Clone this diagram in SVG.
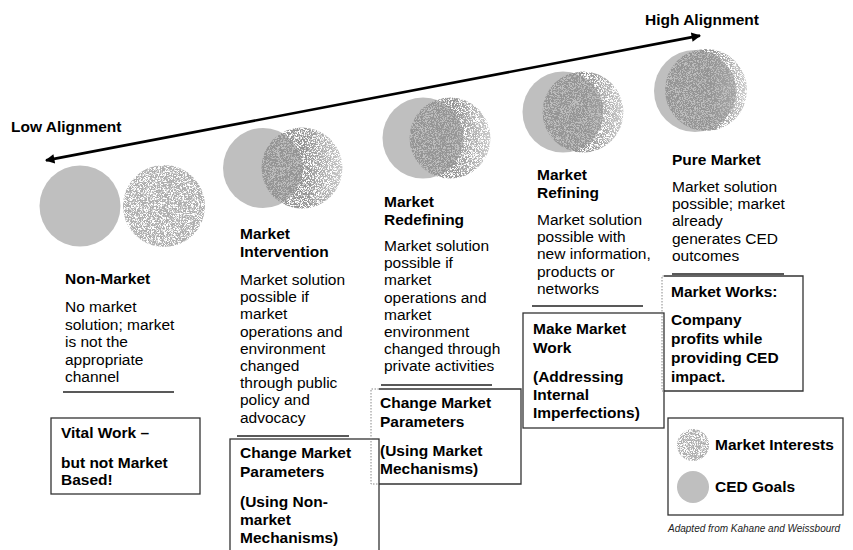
<svg xmlns="http://www.w3.org/2000/svg" width="853" height="550" viewBox="0 0 853 550">
  <style>
    text { font-family: "Liberation Sans", Arial, sans-serif; fill: #000; }
    .h { font-size: 15.5px; font-weight: bold; }
    .b { font-size: 15.5px; }
    .cap { font-size: 10px; font-style: italic; fill: #222; }
    .ced { fill: #bfbfbf; }
    .mkt { filter: url(#stipple); }
    .box { fill: none; stroke: #333; stroke-width: 1.3; }
    .dot { fill: none; stroke: #888; stroke-width: 1; stroke-dasharray: 1.5 1.5; }
    .sep { stroke: #222; stroke-width: 1.5; }
    .arrow { stroke: #000; stroke-width: 2.6; fill: none; }
  </style>
  <defs>
    <marker id="head" viewBox="0 0 10 10" refX="9" refY="5" markerWidth="4.2" markerHeight="3.6" orient="auto-start-reverse" markerUnits="strokeWidth">
      <path d="M0,0 L10,5 L0,10 Z" fill="#000"/>
    </marker>
    <!-- speckled texture: fine pixel noise thresholded into dark dots, kept inside the shape -->
    <filter id="stipple" x="-5%" y="-5%" width="110%" height="110%">
      <feTurbulence type="fractalNoise" baseFrequency="2.3" numOctaves="2" seed="7" result="n"/>
      <feColorMatrix in="n" type="matrix" values="0 0 0 0 0.3  0 0 0 0 0.3  0 0 0 0 0.3  7 0 0 0 -2.75" result="dots"/>
      <feComposite in="dots" in2="SourceGraphic" operator="in"/>
    </filter>
    <linearGradient id="fade" x1="0" y1="0" x2="1" y2="0">
      <stop offset="0" stop-color="#000" stop-opacity="1"/>
      <stop offset="0.55" stop-color="#000" stop-opacity="1"/>
      <stop offset="1" stop-color="#000" stop-opacity="0.5"/>
    </linearGradient>
  </defs>

  <!-- alignment axis -->
  <g id="connectors">
    <line class="arrow" x1="46" y1="160.4" x2="700" y2="35.6" marker-start="url(#head)" marker-end="url(#head)"/>
  </g>
  <text class="h" x="11" y="132">Low Alignment</text>
  <text class="h" x="645" y="25">High Alignment</text>

  <!-- Non-Market -->
  <g id="non-market">
    <circle class="ced" cx="80" cy="206" r="40.5"/>
    <circle class="mkt" cx="164" cy="206" r="41" fill="#000" fill-opacity="0.75"/>
    <text class="h" x="65" y="284">Non-Market</text>
    <text class="b" x="65" y="312">
      <tspan x="65" y="312">No market</tspan>
      <tspan x="65" y="329.5">solution; market</tspan>
      <tspan x="65" y="347">is not the</tspan>
      <tspan x="65" y="364.5">appropriate</tspan>
      <tspan x="65" y="382">channel</tspan>
    </text>
    <line class="sep" x1="63" y1="392" x2="174" y2="392"/>
  </g>
  <g id="vital-work">
    <rect class="box" x="51" y="418" width="149" height="76"/>
    <text class="h" x="61" y="438">Vital Work –</text>
    <text class="h" x="61" y="468">but not Market</text>
    <text class="h" x="61" y="485">Based!</text>
  </g>

  <!-- Market Intervention -->
  <g id="market-intervention">
    <circle class="ced" cx="263" cy="168" r="40"/>
    <circle class="mkt" cx="302" cy="168" r="40.5" fill="url(#fade)"/>
    <text class="h" x="240" y="239">Market</text>
    <text class="h" x="240" y="257">Intervention</text>
    <text class="b">
      <tspan x="240" y="285">Market solution</tspan>
      <tspan x="240" y="302.2">possible if</tspan>
      <tspan x="240" y="319.4">market</tspan>
      <tspan x="240" y="336.6">operations and</tspan>
      <tspan x="240" y="353.8">environment</tspan>
      <tspan x="240" y="371">changed</tspan>
      <tspan x="240" y="388.2">through public</tspan>
      <tspan x="240" y="405.4">policy and</tspan>
      <tspan x="240" y="422.6">advocacy</tspan>
    </text>
    <line class="sep" x1="237" y1="436" x2="349" y2="436"/>
  </g>
  <g id="non-market-mechanisms">
    <rect class="box" x="230" y="439" width="149" height="130"/>
    <text class="h" x="240" y="458">Change Market</text>
    <text class="h" x="240" y="477">Parameters</text>
    <text class="h" x="240" y="507">(Using Non-</text>
    <text class="h" x="240" y="525">market</text>
    <text class="h" x="240" y="543">Mechanisms)</text>
  </g>

  <!-- Market Redefining -->
  <g id="market-redefining">
    <circle class="ced" cx="423" cy="138" r="40.5"/>
    <circle class="mkt" cx="450" cy="138" r="40.5" fill="url(#fade)"/>
    <text class="h" x="384" y="207">Market</text>
    <text class="h" x="384" y="225">Redefining</text>
    <text class="b">
      <tspan x="384" y="251">Market solution</tspan>
      <tspan x="384" y="268.2">possible if</tspan>
      <tspan x="384" y="285.4">market</tspan>
      <tspan x="384" y="302.6">operations and</tspan>
      <tspan x="384" y="319.8">market</tspan>
      <tspan x="384" y="337">environment</tspan>
      <tspan x="384" y="354.2">changed through</tspan>
      <tspan x="384" y="371.4">private activities</tspan>
    </text>
    <line class="sep" x1="381" y1="385" x2="492" y2="385"/>
  </g>
  <g id="market-mechanisms">
    <path class="box" d="M379,389 H521 V484 H379"/>
    <path class="dot" d="M379,389 H371 V484 H379"/>
    <text class="h" x="380" y="408">Change Market</text>
    <text class="h" x="380" y="427">Parameters</text>
    <text class="h" x="380" y="456">(Using Market</text>
    <text class="h" x="380" y="474">Mechanisms)</text>
  </g>

  <!-- Market Refining -->
  <g id="market-refining">
    <circle class="ced" cx="563" cy="112" r="40.5"/>
    <circle class="mkt" cx="583" cy="112" r="40.5" fill="url(#fade)"/>
    <text class="h" x="537" y="180">Market</text>
    <text class="h" x="537" y="198">Refining</text>
    <text class="b">
      <tspan x="537" y="225">Market solution</tspan>
      <tspan x="537" y="242.2">possible with</tspan>
      <tspan x="537" y="259.4">new information,</tspan>
      <tspan x="537" y="276.6">products or</tspan>
      <tspan x="537" y="293.8">networks</tspan>
    </text>
    <line class="sep" x1="532" y1="306" x2="643" y2="306"/>
  </g>
  <g id="make-market-work">
    <rect class="box" x="523" y="313" width="141" height="115"/>
    <text class="h" x="533" y="334">Make Market</text>
    <text class="h" x="533" y="353">Work</text>
    <text class="h" x="533" y="382">(Addressing</text>
    <text class="h" x="533" y="400">Internal</text>
    <text class="h" x="533" y="418">Imperfections)</text>
  </g>

  <!-- Pure Market -->
  <g id="pure-market">
    <circle class="ced" cx="695" cy="91" r="41"/>
    <circle class="mkt" cx="706" cy="90" r="41" fill="url(#fade)"/>
    <text class="h" x="672" y="165">Pure Market</text>
    <text class="b">
      <tspan x="672" y="192">Market solution</tspan>
      <tspan x="672" y="209.2">possible; market</tspan>
      <tspan x="672" y="226.4">already</tspan>
      <tspan x="672" y="243.6">generates CED</tspan>
      <tspan x="672" y="260.8">outcomes</tspan>
    </text>
    <line class="sep" x1="672" y1="274" x2="784" y2="274"/>
  </g>
  <g id="market-works">
    <path class="box" d="M664,276 H803 V391 H664"/>
    <path class="dot" d="M664,276 H662 V391 H664"/>
    <text class="h" x="671" y="297">Market Works:</text>
    <text class="h" x="671" y="325">Company</text>
    <text class="h" x="671" y="344">profits while</text>
    <text class="h" x="671" y="363">providing CED</text>
    <text class="h" x="671" y="382">impact.</text>
  </g>

  <!-- Legend -->
  <g id="legend">
    <rect class="box" x="668" y="418" width="175" height="97"/>
    <circle class="mkt" cx="693" cy="445" r="16" fill="#000" fill-opacity="0.75"/>
    <text class="h" x="715" y="450">Market Interests</text>
    <circle class="ced" cx="693" cy="487" r="16"/>
    <text class="h" x="715" y="492">CED Goals</text>
  </g>
  <text class="cap" x="668" y="532">Adapted from Kahane and Weissbourd</text>
</svg>
